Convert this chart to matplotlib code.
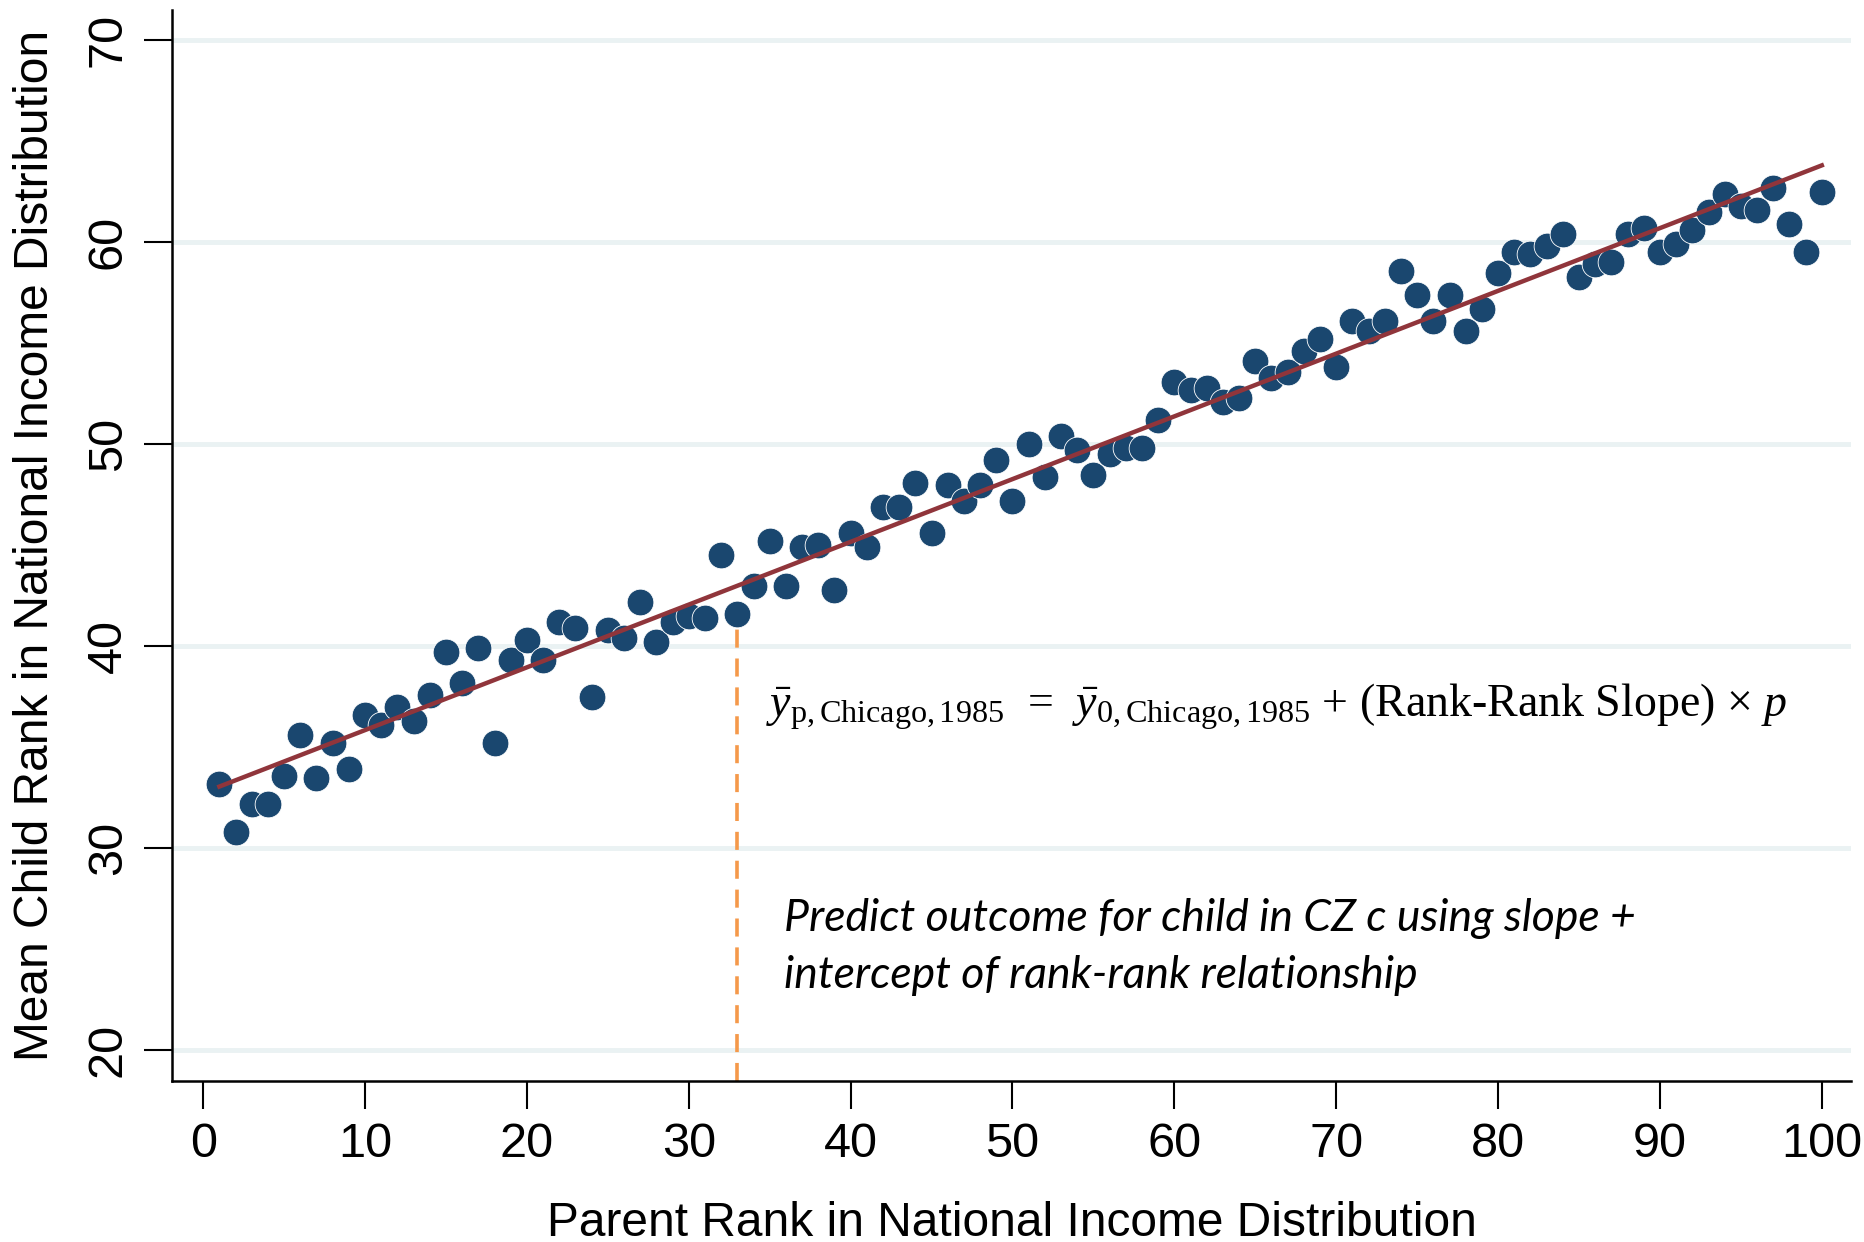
import numpy as np
import matplotlib
matplotlib.use("Agg")
import matplotlib.pyplot as plt

# parent rank bins and mean child rank
parent_rank = np.arange(1, 101)
child_rank = [
    33.2, 30.8, 32.2, 32.2, 33.6, 35.6, 33.5, 35.2, 33.9, 36.6,
    36.1, 37.0, 36.3, 37.6, 39.7, 38.2, 39.9, 35.2, 39.3, 40.3,
    39.3, 41.2, 40.9, 37.5, 40.8, 40.4, 42.2, 40.2, 41.2, 41.5,
    41.4, 44.5, 41.6, 43.0, 45.2, 43.0, 44.9, 45.0, 42.8, 45.6,
    44.9, 46.9, 46.9, 48.1, 45.6, 48.0, 47.2, 48.0, 49.2, 47.2,
    50.0, 48.4, 50.4, 49.7, 48.5, 49.5, 49.8, 49.8, 51.2, 53.1,
    52.7, 52.8, 52.1, 52.3, 54.1, 53.3, 53.6, 54.6, 55.2, 53.8,
    56.1, 55.6, 56.1, 58.6, 57.4, 56.1, 57.4, 55.6, 56.7, 58.5,
    59.5, 59.4, 59.8, 60.4, 58.3, 58.9, 59.0, 60.4, 60.7, 59.5,
    59.9, 60.6, 61.5, 62.4, 61.8, 61.6, 62.7, 60.9, 59.5, 62.5,
]
highlight_rank = 33
x_ticks = list(range(0, 101, 10))
y_ticks = list(range(20, 71, 10))

child_rank = np.array(child_rank)
slope, intercept = np.polyfit(parent_rank, child_rank, 1)

plt.rcParams['font.family'] = ['Liberation Sans', 'DejaVu Sans']
plt.rcParams['mathtext.fontset'] = 'custom'
plt.rcParams['mathtext.rm'] = 'Liberation Serif'
plt.rcParams['mathtext.it'] = 'Liberation Serif:italic'

fig = plt.figure(figsize=(18.64, 12.42), dpi=100)
ax = fig.add_axes([0.0925, 0.130, 0.9005, 0.862])

for yt in y_ticks:
    ax.axhline(yt, color='#eaf2f3', lw=3.5, zorder=0)

ax.scatter(parent_rank, child_rank, s=370, color='#1a476f',
           edgecolor='white', linewidth=0.6, zorder=3)
ax.plot(parent_rank, intercept + slope * parent_rank, color='#90353b',
        lw=3.2, zorder=4)

y_hl = child_rank[parent_rank == highlight_rank][0]
ax.plot([highlight_rank, highlight_rank], [18.5, y_hl], color='#f5994a',
        lw=2.6, ls=(0, (5, 3)), zorder=2)

ax.text(34.8, 36.5,
        r'$\bar{y}_{\mathrm{p,Chicago,1985}}$  =  $\bar{y}_{\mathrm{0,Chicago,1985}}$ + (Rank-Rank Slope) $\times$ $p$',
        fontsize=33, family='Liberation Serif', va='baseline')
ax.text(35.9, 25.9, 'Predict outcome for child in CZ c using slope +',
        fontsize=32, family='Lato', style='italic', va='baseline')
ax.text(35.9, 23.1, 'intercept of rank-rank relationship',
        fontsize=32, family='Lato', style='italic', va='baseline')

ax.set_xlim(-1.9, 101.8)
ax.set_ylim(18.5, 71.5)
ax.set_xticks(x_ticks)
ax.set_yticks(y_ticks)
ax.tick_params(axis='both', length=20, width=1.5, labelsize=35, pad=10)
for lab in ax.get_yticklabels():
    lab.set_rotation(90)
    lab.set_va('center')
for side in ['top', 'right']:
    ax.spines[side].set_visible(False)
for side in ['left', 'bottom']:
    ax.spines[side].set_linewidth(1.8)

ax.set_xlabel('Parent Rank in National Income Distribution', fontsize=34.5, labelpad=24)
ax.set_ylabel('Mean Child Rank in National Income Distribution', fontsize=34.5, labelpad=20)

fig.savefig('out.png', dpi=100)
